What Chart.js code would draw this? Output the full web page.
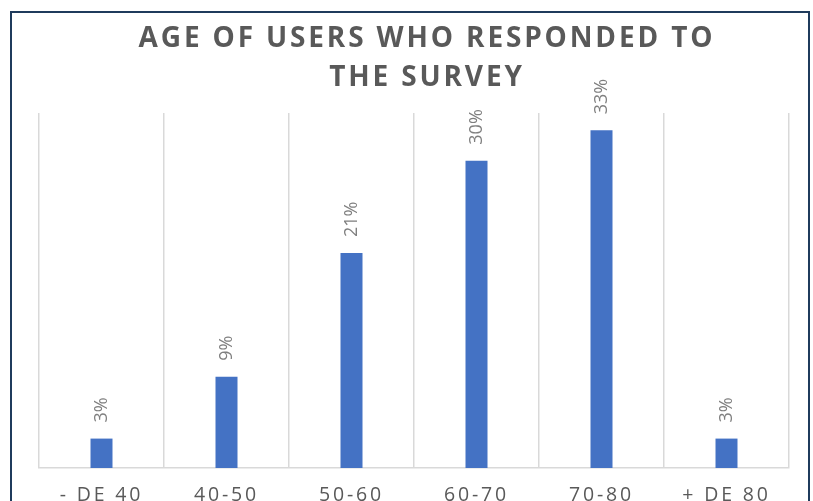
<!DOCTYPE html>
<html>
<head>
<meta charset="utf-8">
<script src="https://cdn.jsdelivr.net/npm/chart.js@4/dist/chart.umd.min.js"></script>
<style>
  html, body { margin: 0; padding: 0; background: #ffffff; overflow: hidden; }
  #wrap { position: relative; width: 813px; height: 501px; overflow: hidden; background: #ffffff; }
  #c { position: absolute; left: 0; top: 0; }
  #frame { position: absolute; left: 10px; top: 11px; width: 796px; height: 600px;
           border: 2px solid #1f3b5c; pointer-events: none; }
</style>
</head>
<body>
<div id="wrap">
  <canvas id="c" width="830" height="530"></canvas>
  <div id="frame"></div>
</div>
<script>
const categories = ['- DE 40', '40-50', '50-60', '60-70', '70-80', '+ DE 80'];
const shares = [2.9, 9.0, 21.2, 30.3, 33.3, 2.9];
const titleLines = ['AGE OF USERS WHO RESPONDED TO', 'THE SURVEY'];
const axisMax = 35;

const spacingPlugin = {
  id: 'spacing',
  beforeDraw(chart) { chart.ctx.letterSpacing = '2.85px'; }
};

const barLabels = {
  id: 'barLabels',
  afterDatasetsDraw(chart) {
    const ctx = chart.ctx;
    const meta = chart.getDatasetMeta(0);
    ctx.save();
    ctx.letterSpacing = '0px';
    ctx.font = '18px "Open Sans"';
    ctx.fillStyle = '#7f7f7f';
    ctx.textAlign = 'left';
    ctx.textBaseline = 'middle';
    meta.data.forEach((bar, i) => {
      ctx.save();
      ctx.translate(bar.x, bar.y - 16);
      ctx.rotate(-Math.PI / 2);
      ctx.fillText(Math.round(shares[i]) + '%', 0, 0);
      ctx.restore();
    });
    ctx.restore();
  }
};

new Chart(document.getElementById('c'), {
  type: 'bar',
  data: {
    labels: categories,
    datasets: [{
      data: shares,
      backgroundColor: '#4472C4',
      barPercentage: 0.176,
      categoryPercentage: 1
    }]
  },
  options: {
    responsive: false,
    animation: false,
    layout: { padding: { left: 39, right: 15, top: 0, bottom: 0 } },
    plugins: {
      legend: { display: false },
      tooltip: { enabled: false },
      title: {
        display: true,
        text: titleLines,
        color: '#595959',
        font: { family: '"Open Sans"', size: 28, weight: 'bold', lineHeight: 1.393 },
        padding: { top: 19.5, bottom: 15.5 }
      }
    },
    scales: {
      x: {
        grid: { color: '#d9d9d9', lineWidth: 1.5, drawTicks: false, offset: true },
        border: { color: '#d9d9d9', width: 1.5 },
        ticks: { color: '#595959', font: { family: '"Open Sans"', size: 19.5 }, padding: 16 },
        afterFit(s) { s.height = 62; }
      },
      y: {
        position: 'right',
        min: 0,
        max: axisMax,
        grid: { display: false },
        border: { display: false },
        ticks: { display: false },
        afterFit(s) { s.width = 26; }
      }
    }
  },
  plugins: [spacingPlugin, barLabels]
});
</script>
</body>
</html>
